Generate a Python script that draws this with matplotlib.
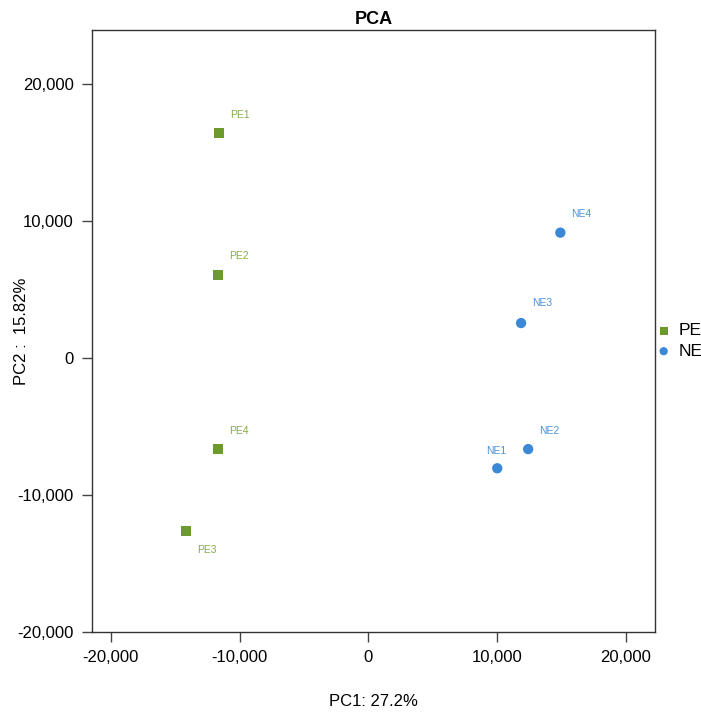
import matplotlib
matplotlib.use("Agg")
import matplotlib.pyplot as plt
from matplotlib.ticker import FuncFormatter

plt.rcParams['font.family'] = ['Liberation Sans', 'DejaVu Sans']

groups = ["PE", "NE"]
samples = {
    "PE": ["PE1", "PE2", "PE3", "PE4"],
    "NE": ["NE1", "NE2", "NE3", "NE4"],
}
pc1 = {
    "PE": [-11600, -11700, -14200, -11700],
    "NE": [10000, 12400, 11850, 14900],
}
pc2 = {
    "PE": [16400, 6050, -12650, -6650],
    "NE": [-8050, -6650, 2550, 9150],
}
xticks = [-20000, -10000, 0, 10000, 20000]
yticks = [-20000, -10000, 0, 10000, 20000]

colors = {"PE": "#6d9a2c", "NE": "#3a88d6"}
label_colors = {"PE": "#86ad45", "NE": "#4b93d9"}
markers = {"PE": "s", "NE": "o"}
offsets = {
    "PE1": (20, 18), "PE2": (20, 18), "PE3": (20, -18), "PE4": (20, 17),
    "NE1": (-1, 17), "NE2": (20, 17), "NE3": (20, 19), "NE4": (20, 18),
}

W, H = 701, 714
fig = plt.figure(figsize=(W/100, H/100), dpi=100)
ax = fig.add_axes([92/W, (H-632)/H, (655-92)/W, (632-30)/H])

for g in groups:
    ax.scatter(pc1[g], pc2[g], marker=markers[g], c=colors[g], s=55 if g == "NE" else 50,
               edgecolors='none', label=g, zorder=3)
    for name, x, y in zip(samples[g], pc1[g], pc2[g]):
        dx, dy = offsets[name]
        ax.annotate(name, (x, y), xytext=(dx * 0.75, dy * 0.75), textcoords='offset points',
                    ha='center', va='center', fontsize=7.5, color=label_colors[g])

ax.set_xlim(-21470, 22250)
ax.set_ylim(-20000, 23940)
ax.set_xticks(xticks)
ax.set_yticks(yticks)
fmt = FuncFormatter(lambda v, p: f"{int(v):,}")
ax.xaxis.set_major_formatter(fmt)
ax.yaxis.set_major_formatter(fmt)
ax.tick_params(axis='both', direction='out', length=7, width=1, color='#444444',
               labelsize=12, labelcolor='black', pad=6)
for s in ax.spines.values():
    s.set_color('#333333')
    s.set_linewidth(1)

ax.set_title("PCA", fontsize=13, fontweight='bold', pad=4)
ax.set_xlabel("PC1: 27.2%", fontsize=12)
ax.set_ylabel("PC2 :  15.82%", fontsize=12)
ax.xaxis.set_label_coords(0.5, (632-702)/602)
ax.yaxis.set_label_coords((22-92)/563, 0.5)
ax.xaxis.label.set_va('center')
ax.yaxis.label.set_va('center')

leg = fig.legend(loc='center left', bbox_to_anchor=(655/W, (H-341)/H), frameon=False,
                 fontsize=12.5, handletextpad=0.35, borderaxespad=0, borderpad=0,
                 labelspacing=0.3, handlelength=1.0, markerscale=0.8)

fig.savefig("out.png", dpi=100)
